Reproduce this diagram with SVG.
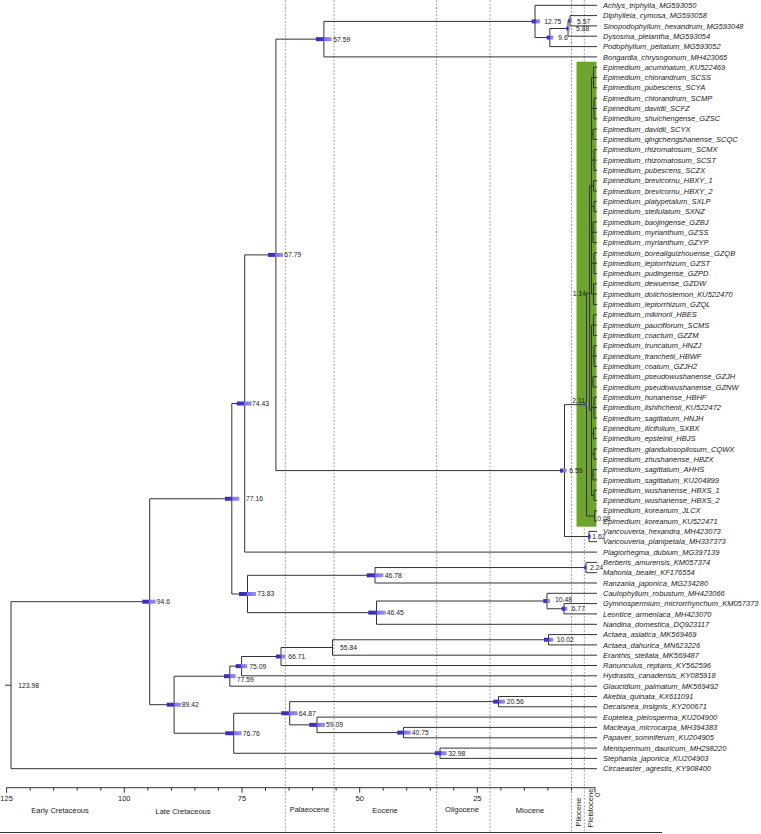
<svg xmlns="http://www.w3.org/2000/svg" width="761" height="834" viewBox="0 0 761 834">
<defs>
<linearGradient id="hg" x1="0" x2="1" y1="0" y2="0">
<stop offset="0" stop-color="#3a2ea8"/><stop offset="0.5" stop-color="#4536c4"/><stop offset="0.5" stop-color="#7a6de6"/><stop offset="1" stop-color="#9b91f2"/>
</linearGradient>
</defs>
<style>
.br{stroke:#333;stroke-width:1;fill:none}
.dash{stroke:#8a8a8a;stroke-width:0.8;stroke-dasharray:2 1.5;fill:none}
.tip{font-family:"Liberation Sans",Arial,sans-serif;font-style:italic;font-size:7.5px;fill:#222}
.nl{font-family:"Liberation Sans",Arial,sans-serif;font-size:6.8px;fill:#222}
.ax{font-family:"Liberation Sans",Arial,sans-serif;font-size:7.5px;fill:#222}
.hpd{fill:url(#hg)}
</style>
<rect width="761" height="834" fill="#fff"/>
<rect id="highlight" x="576.5" y="61.7" width="20" height="465" fill="#6ca52a"/>
<g id="eras">
<path class="dash" d="M285.3,0V833M334,0V833M436.7,0V833M490,0V833M571.5,0V833M584.3,0V833"/>
</g>
<g id="connectors" class="br">
<path d="M5,685.2H11M11,601.7V768.7M11,601.7H149.7M11,768.7H597"/>
<path d="M149.7,498.75V704.7M149.7,498.75H231.8M149.7,704.7H174.1"/>
<path d="M231.8,403.5V594M231.8,403.5H244.7M231.8,594H247.5"/>
<path d="M244.7,254.9V552.1M244.7,254.9H275.9M244.7,552.1H597"/>
<path d="M275.9,39.15V470.6M275.9,39.15H323.9M275.9,470.6H564.5"/>
<path d="M323.9,21.4V56.9M323.9,21.4H535M323.9,56.9H597"/>
<path d="M535,5.3V37.55M535,5.3H597M535,37.55H549.8"/>
<path d="M549.8,28.5V46.6M549.8,28.5H568M549.8,46.6H597"/>
<path d="M568,20.75V36.2M568,20.75H570M568,36.2H597"/>
<path d="M570,15.6V25.9M570,15.6H597M570,25.9H597"/>
<path d="M564.5,404.65V536.55M564.5,404.65H586.5M564.5,536.55H589"/>
<path d="M586.5,293.3V516M586.5,293.3H589.6M586.5,516H594.6"/>
<path d="M594.6,510.8V521.1M594.6,510.8H597M594.6,521.1H597"/>
<path d="M589,531.4V541.7M589,531.4H597M589,541.7H597"/>
<path d="M589.6,185.85V410.25M589.6,185.85H591.5M589.6,410.25H591.5"/>
<path d="M591.5,77.5V294.15M591.5,77.5H593.5M591.5,108.45H594M591.5,134.25H593M591.5,160.05H594M591.5,185.85H593.5M591.5,206.45H594M591.5,232.3H593M591.5,263.2H594M591.5,294.15H593.5"/>
<path d="M591.5,325.1V495.35M591.5,325.1H593.5M591.5,356.05H594M591.5,381.85H593M591.5,407.65H594M591.5,433.45H593.5M591.5,454.05H594M591.5,474.7H593M591.5,495.35H594"/>
<path d="M593.5,67.2V87.8M593.5,67.2H597M593.5,77.5H597M593.5,87.8H597M594,98.1V118.8M594,98.1H597M594,108.5H597M594,118.8H597M593,129.1V139.4M593,129.1H597M593,139.4H597M594,149.7V170.4M594,149.7H597M594,160.1H597M594,170.4H597M593.5,180.7V191M593.5,180.7H597M593.5,191H597M594,201.3V211.6M594,201.3H597M594,211.6H597M593,222V242.6M593,222H597M593,232.3H597M593,242.6H597M594,252.9V273.5M594,252.9H597M594,263.2H597M594,273.5H597M593.5,283.8V304.5M593.5,283.8H597M593.5,294.2H597M593.5,304.5H597"/>
<path d="M593.5,314.8V335.4M593.5,314.8H597M593.5,325.1H597M593.5,335.4H597M594,345.7V366.4M594,345.7H597M594,356.1H597M594,366.4H597M593,376.7V387M593,376.7H597M593,387H597M594,397.3V418M594,397.3H597M594,407.6H597M594,418H597M593.5,428.3V438.6M593.5,428.3H597M593.5,438.6H597M594,448.9V459.2M594,448.9H597M594,459.2H597M593,469.5V479.9M593,469.5H597M593,479.9H597M594,490.2V500.5M594,490.2H597M594,500.5H597"/>
<path d="M247.5,575.3V612.65M247.5,575.3H375M247.5,612.65H376.5"/>
<path d="M375,567.55V583M375,567.55H586M375,583H597"/>
<path d="M586,562.4V572.7M586,562.4H597M586,572.7H597"/>
<path d="M376.5,601V624.3M376.5,601H547M376.5,624.3H597"/>
<path d="M547,593.3V608.75M547,593.3H597M547,608.75H564"/>
<path d="M564,603.6V613.9M564,603.6H597M564,613.9H597"/>
<path d="M174.1,676.2V733.25M174.1,676.2H229.8M174.1,733.25H233.7"/>
<path d="M229.8,666.15V686.2M229.8,666.15H241.6M229.8,686.2H597"/>
<path d="M241.6,656.5V675.8M241.6,656.5H281M241.6,675.8H597"/>
<path d="M281,647.5V665.5M281,647.5H332.5M281,665.5H597"/>
<path d="M332.5,639.75V655.2M332.5,639.75H548.5M332.5,655.2H597"/>
<path d="M548.5,634.6V644.9M548.5,634.6H597M548.5,644.9H597"/>
<path d="M233.7,713.25V753.25M233.7,713.25H289.7M233.7,753.25H440"/>
<path d="M289.7,701.65V724.85M289.7,701.65H498.5M289.7,724.85H317"/>
<path d="M498.5,696.5V706.8M498.5,696.5H597M498.5,706.8H597"/>
<path d="M317,717.1V732.6M317,717.1H597M317,732.6H403.5"/>
<path d="M403.5,727.4V737.8M403.5,727.4H597M403.5,737.8H597"/>
<path d="M440,748.1V758.4M440,748.1H597M440,758.4H597"/>
</g>
<g id="n123_98"><text class="nl" x="18.3" y="687.6">123.98</text></g>
<g id="n94_6"><rect class="hpd" x="142.3" y="599.7" width="13.4" height="4"/><text class="nl" x="156.7" y="604.1">94.6</text></g>
<g id="n89_42"><rect class="hpd" x="166.7" y="702.7" width="14.3" height="4"/><text class="nl" x="181.7" y="707.1">89.42</text></g>
<g id="n77_16"><rect class="hpd" x="225" y="496.75" width="14.3" height="4"/><text class="nl" x="246" y="501.2">77.16</text></g>
<g id="n74_43"><rect class="hpd" x="236.7" y="401.5" width="15" height="4"/><text class="nl" x="252" y="405.9">74.43</text></g>
<g id="n67_79"><rect class="hpd" x="268" y="252.9" width="15" height="4"/><text class="nl" x="284.3" y="257.3">67.79</text></g>
<g id="n73_83"><rect class="hpd" x="239" y="592" width="17" height="4"/><text class="nl" x="257.3" y="596.4">73.83</text></g>
<g id="n57_59"><rect class="hpd" x="316" y="37.15" width="15.7" height="4"/><text class="nl" x="333.3" y="41.6">57.59</text></g>
<g id="n12_75"><rect class="hpd" x="531.7" y="19.4" width="8.3" height="4"/><text class="nl" x="544.3" y="23.8">12.75</text></g>
<g id="n5_57"><rect class="hpd" x="568.3" y="18.75" width="3.5" height="4"/><text class="nl" x="577" y="24">5.57</text></g>
<g id="n5_88"><rect class="hpd" x="566.3" y="26.5" width="3.5" height="4"/><text class="nl" x="576" y="31">5.88</text></g>
<g id="n9_6"><rect class="hpd" x="546.7" y="35.55" width="6.6" height="4"/><text class="nl" x="558.3" y="40">9.6</text></g>
<g id="n6_59"><rect class="hpd" x="560" y="468.6" width="6.7" height="4"/><text class="nl" x="569.3" y="473">6.59</text></g>
<g id="n2_11"><rect class="hpd" x="585.3" y="402.65" width="2.5" height="4"/><text class="nl" x="585" y="402.5" text-anchor="end">2.11</text></g>
<g id="n1_14"><text class="nl" x="586" y="295.7" text-anchor="end">1.14</text></g>
<g id="n0_08"><text class="nl" x="597.3" y="520.5">0.08</text></g>
<g id="n1_62"><rect class="hpd" x="588" y="534.55" width="3" height="4"/><text class="nl" x="592.3" y="539">1.62</text></g>
<g id="n2_24"><rect class="hpd" x="584.3" y="565.55" width="3" height="4"/><text class="nl" x="590" y="570">2.24</text></g>
<g id="n46_78"><rect class="hpd" x="366.7" y="573.3" width="16.6" height="4"/><text class="nl" x="384.7" y="577.7">46.78</text></g>
<g id="n46_45"><rect class="hpd" x="368.3" y="610.65" width="17.4" height="4"/><text class="nl" x="386.7" y="615">46.45</text></g>
<g id="n10_48"><rect class="hpd" x="543.3" y="599" width="6.7" height="4"/><text class="nl" x="555" y="601.7">10.48</text></g>
<g id="n6_77"><rect class="hpd" x="561.7" y="606.75" width="5.6" height="4"/><text class="nl" x="571.7" y="611.4">6.77</text></g>
<g id="n10_02"><rect class="hpd" x="544" y="637.75" width="9.3" height="4"/><text class="nl" x="556.7" y="642.1">10.02</text></g>
<g id="n55_84"><text class="nl" x="340" y="649.9">55.84</text></g>
<g id="n66_71"><rect class="hpd" x="276" y="654.5" width="9.3" height="4"/><text class="nl" x="288.3" y="658.9">66.71</text></g>
<g id="n75_09"><rect class="hpd" x="235.7" y="664.15" width="11.6" height="4"/><text class="nl" x="249.3" y="668.5">75.09</text></g>
<g id="n77_59"><rect class="hpd" x="224" y="674.2" width="11.7" height="4"/><text class="nl" x="236.7" y="682.4">77.59</text></g>
<g id="n76_76"><rect class="hpd" x="225.3" y="731.25" width="16.4" height="4"/><text class="nl" x="242.7" y="735.6">76.76</text></g>
<g id="n64_87"><rect class="hpd" x="281.3" y="711.25" width="16.4" height="4"/><text class="nl" x="298.7" y="716.2">64.87</text></g>
<g id="n59_09"><rect class="hpd" x="309.3" y="722.85" width="15.7" height="4"/><text class="nl" x="326" y="727.2">59.09</text></g>
<g id="n40_75"><rect class="hpd" x="397.3" y="730.6" width="13.4" height="4"/><text class="nl" x="411.7" y="735">40.75</text></g>
<g id="n20_56"><rect class="hpd" x="493.3" y="699.65" width="11.7" height="4"/><text class="nl" x="506.7" y="704">20.56</text></g>
<g id="n32_98"><rect class="hpd" x="434.7" y="751.25" width="12" height="4"/><text class="nl" x="448.3" y="755.6">32.98</text></g>
<g id="tips" class="tip">
<g id="t1"><text x="603" y="7.9">Achlys_triphylla_MG593050</text></g>
<g id="t2"><text x="603" y="18.2">Diphylleia_cymosa_MG593058</text></g>
<g id="t3"><text x="603" y="28.5">Sinopodophyllum_hexandrum_MG593048</text></g>
<g id="t4"><text x="603" y="38.8">Dysosma_pleiantha_MG593054</text></g>
<g id="t5"><text x="603" y="49.2">Podophyllum_peltatum_MG593052</text></g>
<g id="t6"><text x="603" y="59.5">Bongardia_chrysogonum_MH423065</text></g>
<g id="t7"><text x="603" y="69.8">Epimedium_acuminatum_KU522469</text></g>
<g id="t8"><text x="603" y="80.1">Epimedium_chlorandrum_SCSS</text></g>
<g id="t9"><text x="603" y="90.4">Epimedium_pubescens_SCYA</text></g>
<g id="t10"><text x="603" y="100.7">Epimedium_chlorandrum_SCMP</text></g>
<g id="t11"><text x="603" y="111.1">Epimedium_davidii_SCFZ</text></g>
<g id="t12"><text x="603" y="121.4">Epimedium_shuichengense_GZSC</text></g>
<g id="t13"><text x="603" y="131.7">Epimedium_davidii_SCYX</text></g>
<g id="t14"><text x="603" y="142">Epimedium_qingchengshanense_SCQC</text></g>
<g id="t15"><text x="603" y="152.3">Epimedium_rhizomatosum_SCMX</text></g>
<g id="t16"><text x="603" y="162.7">Epimedium_rhizomatosum_SCST</text></g>
<g id="t17"><text x="603" y="173">Epimedium_pubescens_SCZX</text></g>
<g id="t18"><text x="603" y="183.3">Epimedium_brevicornu_HBXY_1</text></g>
<g id="t19"><text x="603" y="193.6">Epimedium_brevicornu_HBXY_2</text></g>
<g id="t20"><text x="603" y="203.9">Epimedium_platypetalum_SXLP</text></g>
<g id="t21"><text x="603" y="214.2">Epimedium_stellulatum_SXNZ</text></g>
<g id="t22"><text x="603" y="224.6">Epimedium_baojingense_GZBJ</text></g>
<g id="t23"><text x="603" y="234.9">Epimedium_myrianthum_GZSS</text></g>
<g id="t24"><text x="603" y="245.2">Epimedium_myrianthum_GZYP</text></g>
<g id="t25"><text x="603" y="255.5">Epimedium_borealiguizhouense_GZQB</text></g>
<g id="t26"><text x="603" y="265.8">Epimedium_leptorrhizum_GZST</text></g>
<g id="t27"><text x="603" y="276.1">Epimedium_pudingense_GZPD</text></g>
<g id="t28"><text x="603" y="286.4">Epimedium_dewuense_GZDW</text></g>
<g id="t29"><text x="603" y="296.8">Epimedium_dolichostemon_KU522470</text></g>
<g id="t30"><text x="603" y="307.1">Epimedium_leptorrhizum_GZQL</text></g>
<g id="t31"><text x="603" y="317.4">Epimedium_mikinorii_HBES</text></g>
<g id="t32"><text x="603" y="327.7">Epimedium_pauciflorum_SCMS</text></g>
<g id="t33"><text x="603" y="338">Epimedium_coactum_GZZM</text></g>
<g id="t34"><text x="603" y="348.3">Epimedium_truncatum_HNZJ</text></g>
<g id="t35"><text x="603" y="358.7">Epimedium_franchetii_HBWF</text></g>
<g id="t36"><text x="603" y="369">Epimedium_coatum_GZJH2</text></g>
<g id="t37"><text x="603" y="379.3">Epimedium_pseudowushanense_GZJH</text></g>
<g id="t38"><text x="603" y="389.6">Epimedium_pseudowushanense_GZNW</text></g>
<g id="t39"><text x="603" y="399.9">Epimedium_hunanense_HBHF</text></g>
<g id="t40"><text x="603" y="410.2">Epimedium_lishihchenii_KU522472</text></g>
<g id="t41"><text x="603" y="420.6">Epimedium_sagittatum_HNJH</text></g>
<g id="t42"><text x="603" y="430.9">Epimedium_ilicifolium_SXBX</text></g>
<g id="t43"><text x="603" y="441.2">Epimedium_epsteinii_HBJS</text></g>
<g id="t44"><text x="603" y="451.5">Epimedium_glandulosopilosum_CQWX</text></g>
<g id="t45"><text x="603" y="461.8">Epimedium_zhushanense_HBZX</text></g>
<g id="t46"><text x="603" y="472.1">Epimedium_sagittatum_AHHS</text></g>
<g id="t47"><text x="603" y="482.5">Epimedium_sagittatum_KU204899</text></g>
<g id="t48"><text x="603" y="492.8">Epimedium_wushanense_HBXS_1</text></g>
<g id="t49"><text x="603" y="503.1">Epimedium_wushanense_HBXS_2</text></g>
<g id="t50"><text x="603" y="513.4">Epimedium_koreanum_JLCX</text></g>
<g id="t51"><text x="603" y="523.7">Epimedium_koreanum_KU522471</text></g>
<g id="t52"><text x="603" y="534">Vancouveria_hexandra_MH423073</text></g>
<g id="t53"><text x="603" y="544.3">Vancouveria_planipetala_MH337373</text></g>
<g id="t54"><text x="603" y="554.7">Plagiorhegma_dubium_MG397139</text></g>
<g id="t55"><text x="603" y="565">Berberis_amurensis_KM057374</text></g>
<g id="t56"><text x="603" y="575.3">Mahonia_bealei_KF176554</text></g>
<g id="t57"><text x="603" y="585.6">Ranzania_japonica_MG234280</text></g>
<g id="t58"><text x="603" y="595.9">Caulophyllum_robustum_MH423066</text></g>
<g id="t59"><text x="603" y="606.2">Gymnospermium_microrrhynchum_KM057373</text></g>
<g id="t60"><text x="603" y="616.5">Leontice_armeniaca_MH423070</text></g>
<g id="t61"><text x="603" y="626.9">Nandina_domestica_DQ923117</text></g>
<g id="t62"><text x="603" y="637.2">Actaea_asiatica_MK569469</text></g>
<g id="t63"><text x="603" y="647.5">Actaea_dahurica_MN623226</text></g>
<g id="t64"><text x="603" y="657.8">Eranthis_stellata_MK569487</text></g>
<g id="t65"><text x="603" y="668.1">Ranunculus_reptans_KY562596</text></g>
<g id="t66"><text x="603" y="678.4">Hydrastis_canadensis_KY085918</text></g>
<g id="t67"><text x="603" y="688.8">Glaucidium_palmatum_MK569492</text></g>
<g id="t68"><text x="603" y="699.1">Akebia_quinata_KX611091</text></g>
<g id="t69"><text x="603" y="709.4">Decaisnea_insignis_KY200671</text></g>
<g id="t70"><text x="603" y="719.7">Euptelea_pleiosperma_KU204900</text></g>
<g id="t71"><text x="603" y="730">Macleaya_microcarpa_MH394383</text></g>
<g id="t72"><text x="603" y="740.4">Papaver_somniferum_KU204905</text></g>
<g id="t73"><text x="603" y="750.7">Menispermum_dauricum_MH298220</text></g>
<g id="t74"><text x="603" y="761">Stephania_japonica_KU204903</text></g>
<g id="t75"><text x="603" y="771.3">Circaeaster_agrestis_KY908400</text></g>
</g>
<g id="axis">
<path class="br" d="M6.6,787.7H595"/>
<path class="br" d="M595,787.7v5M571.5,787.7v3M547.9,787.7v3M524.4,787.7v3M500.9,787.7v3M477.3,787.7v5M453.8,787.7v3M430.3,787.7v3M406.7,787.7v3M383.2,787.7v3M359.7,787.7v5M336.1,787.7v3M312.6,787.7v3M289,787.7v3M265.5,787.7v3M242,787.7v5M218.4,787.7v3M194.9,787.7v3M171.4,787.7v3M147.8,787.7v3M124.3,787.7v5M100.8,787.7v3M77.2,787.7v3M53.7,787.7v3M30.2,787.7v3M6.6,787.7v5"/>
<g class="ax" text-anchor="middle">
<text x="6.6" y="801">125</text><text x="124.3" y="801">100</text><text x="242" y="801">75</text><text x="359.7" y="801">50</text><text x="477.3" y="801">25</text>
<text x="60" y="813">Early Cretaceous</text><text x="183" y="814">Late Cretaceous</text><text x="309.5" y="812">Palaeocene</text><text x="385" y="813">Eocene</text><text x="462" y="812">Oligocene</text><text x="530" y="813">Miocene</text>
<text transform="translate(580.5,812) rotate(-90)">Pliocene</text>
<text transform="translate(592.5,808) rotate(-90)">Pleistocene</text>
<text transform="translate(599.5,795) rotate(-90)">0</text>
</g>
<path class="br" d="M0,832.5H662"/>
</g>
</svg>
